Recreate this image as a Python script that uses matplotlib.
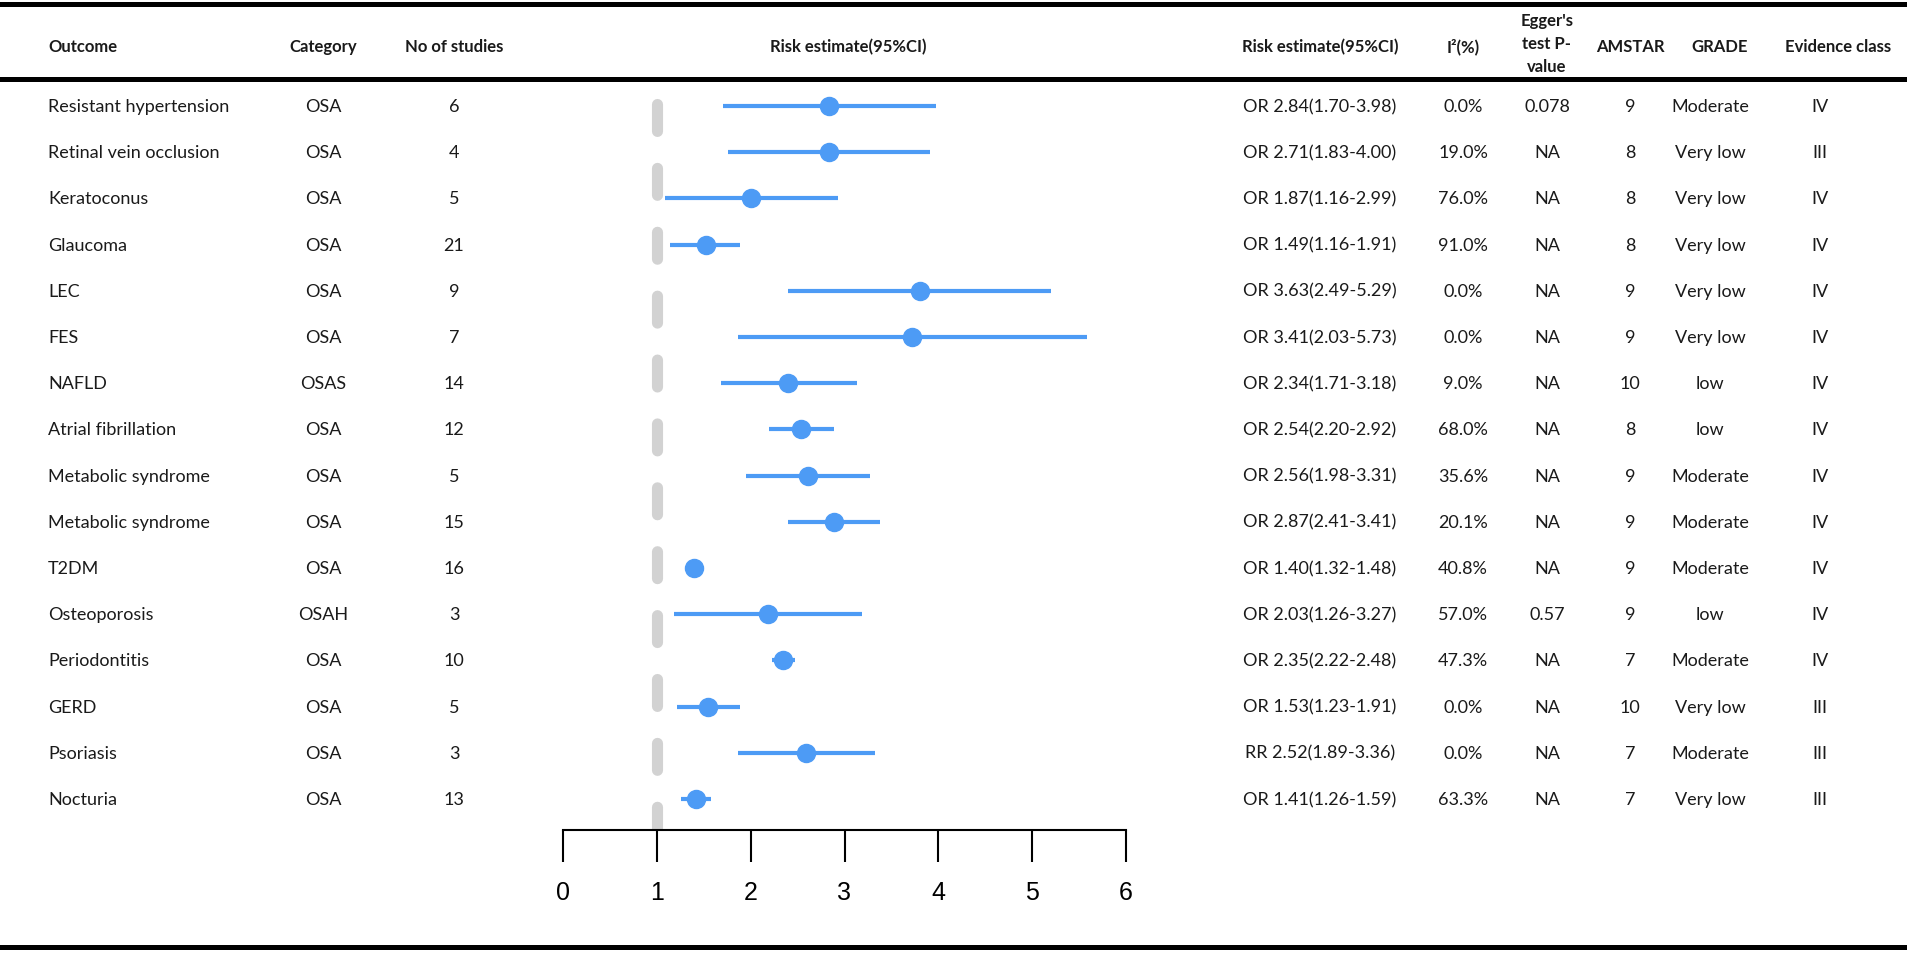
import numpy as np
import matplotlib
matplotlib.use("Agg")
import matplotlib.pyplot as plt
from matplotlib.transforms import blended_transform_factory

plt.rcParams['font.family'] = ['Lato', 'DejaVu Sans']
plt.rcParams['lines.scale_dashes'] = False

outcomes = ["Resistant hypertension", "Retinal vein occlusion", "Keratoconus", "Glaucoma",
            "LEC", "FES", "NAFLD", "Atrial fibrillation", "Metabolic syndrome",
            "Metabolic syndrome", "T2DM", "Osteoporosis", "Periodontitis", "GERD",
            "Psoriasis", "Nocturia"]
categories = ["OSA", "OSA", "OSA", "OSA", "OSA", "OSA", "OSAS", "OSA", "OSA", "OSA",
              "OSA", "OSAH", "OSA", "OSA", "OSA", "OSA"]
n_studies = [6, 4, 5, 21, 9, 7, 14, 12, 5, 15, 16, 3, 10, 5, 3, 13]
risk_text = ["OR 2.84(1.70-3.98)", "OR 2.71(1.83-4.00)", "OR 1.87(1.16-2.99)",
             "OR 1.49(1.16-1.91)", "OR 3.63(2.49-5.29)", "OR 3.41(2.03-5.73)",
             "OR 2.34(1.71-3.18)", "OR 2.54(2.20-2.92)", "OR 2.56(1.98-3.31)",
             "OR 2.87(2.41-3.41)", "OR 1.40(1.32-1.48)", "OR 2.03(1.26-3.27)",
             "OR 2.35(2.22-2.48)", "OR 1.53(1.23-1.91)", "RR 2.52(1.89-3.36)",
             "OR 1.41(1.26-1.59)"]
i2 = ["0.0%", "19.0%", "76.0%", "91.0%", "0.0%", "0.0%", "9.0%", "68.0%", "35.6%",
      "20.1%", "40.8%", "57.0%", "47.3%", "0.0%", "0.0%", "63.3%"]
egger = ["0.078", "NA", "NA", "NA", "NA", "NA", "NA", "NA", "NA", "NA", "NA", "0.57",
         "NA", "NA", "NA", "NA"]
amstar = [9, 8, 8, 8, 9, 9, 10, 8, 9, 9, 9, 9, 7, 10, 7, 7]
grade = ["Moderate", "Very low", "Very low", "Very low", "Very low", "Very low", "low",
         "low", "Moderate", "Moderate", "Moderate", "low", "Moderate", "Very low",
         "Moderate", "Very low"]
evidence = ["IV", "III", "IV", "IV", "IV", "IV", "IV", "IV", "IV", "IV", "IV", "IV",
            "IV", "III", "III", "III"]

# plotted estimates as drawn in the forest panel
est = [2.84, 2.84, 2.00, 1.52, 3.80, 3.72, 2.40, 2.54, 2.61, 2.89, 1.40, 2.18, 2.34, 1.55, 2.59, 1.42]
lo = [1.70, 1.76, 1.09, 1.14, 2.40, 1.87, 1.68, 2.20, 1.95, 2.40, 1.32, 1.18, 2.23, 1.22, 1.86, 1.26]
hi = [3.98, 3.91, 2.93, 1.89, 5.20, 5.58, 3.13, 2.89, 3.27, 3.38, 1.48, 3.19, 2.47, 1.89, 3.32, 1.58]

W, H = 1908, 954
fig = plt.figure(figsize=(W / 100, H / 100), dpi=100)

ax = fig.add_axes([563 / W, 1 - 831 / H, (1126 - 563) / W, (831 - 80) / H])
rows = np.arange(len(outcomes))
blue = "#4d9bf5"

ax.plot([1, 1], [-0.04, 15.67], color="#d2d2d2", lw=8, dashes=(19.4, 26.6),
        dash_capstyle="round", solid_capstyle="round", zorder=1)
ax.hlines(rows, lo, hi, color=blue, lw=3, zorder=2)
ax.plot(est, rows, "o", color=blue, ms=13, zorder=3)

ax.set_xlim(0, 6)
ax.set_ylim(15.671, -0.584)
ax.set_xticks(range(7))
ax.set_yticks([])
for s in ["top", "left", "right"]:
    ax.spines[s].set_visible(False)
ax.spines["bottom"].set_linewidth(1.5)
ax.tick_params(axis="x", direction="out", length=23, width=1.5, pad=13,
               labelsize=18, labelfontfamily="Liberation Sans")
ax.patch.set_visible(False)

# table text: x in figure fraction, y on the row positions of the forest axes
tr = blended_transform_factory(fig.transFigure, ax.transData)
fs = 13
cols = [(48, outcomes, "left"), (323, categories, "center"), (454, n_studies, "center"),
        (1320, risk_text, "center"), (1463, i2, "center"), (1547, egger, "center"),
        (1630, amstar, "center"), (1710, grade, "center"), (1820, evidence, "center")]
for x, vals, ha in cols:
    for r, v in zip(rows, vals):
        fig.text(x / W, r, str(v), transform=tr, ha=ha, va="center", fontsize=fs,
                 color="#1a1a1a")

hy = 1 - 47 / H
headers = [(48, "Outcome", "left"), (323, "Category", "center"),
           (454, "No of studies", "center"), (848, "Risk estimate(95%CI)", "center"),
           (1320, "Risk estimate(95%CI)", "center"), (1463, "I\u00b2(%)", "center"),
           (1630, "AMSTAR", "center"), (1720, "GRADE", "center"),
           (1838, "Evidence class", "center")]
for x, t, ha in headers:
    fig.text(x / W, hy, t, ha=ha, va="center", fontsize=12, fontweight="bold",
             color="#1a1a1a")
fig.text(1547 / W, 1 - 44 / H, "Egger's\ntest P-\nvalue", ha="center", va="center",
         fontsize=12, fontweight="bold", linespacing=1.55, color="#1a1a1a")

for y in [5, 80, 948]:
    fig.add_artist(plt.Line2D([0, 1905 / W], [1 - y / H, 1 - y / H], color="black", lw=3.6,
                              transform=fig.transFigure))

fig.savefig("out.png", dpi=100)
